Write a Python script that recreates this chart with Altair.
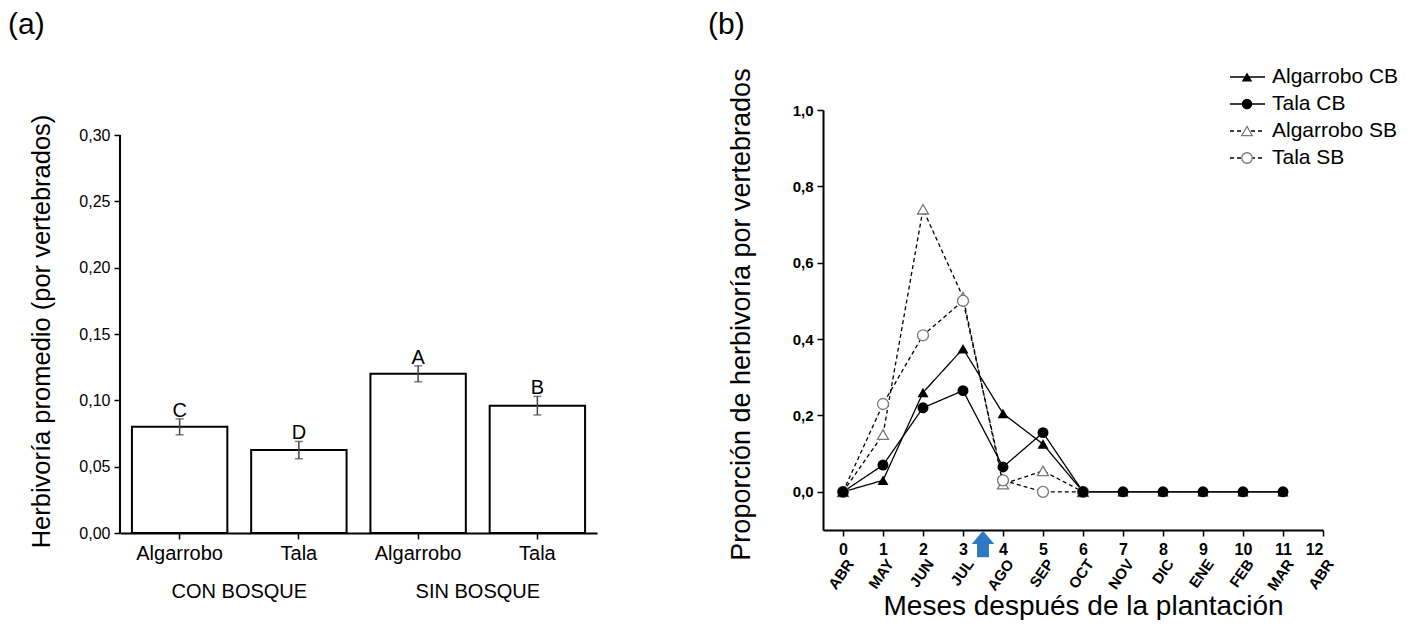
import altair as alt
import pandas as pd

FONT = "Liberation Sans"

# ---------------- data: panel (a) ----------------
bar_species = ["Algarrobo", "Tala", "Algarrobo", "Tala"]
bar_groups = ["CON BOSQUE", "CON BOSQUE", "SIN BOSQUE", "SIN BOSQUE"]
bar_means = [0.080, 0.0625, 0.120, 0.096]
bar_errors = [0.006, 0.0065, 0.006, 0.007]
bar_letters = ["C", "D", "A", "B"]
y_ticks_a = [0.0, 0.05, 0.10, 0.15, 0.20, 0.25, 0.30]

# ---------------- data: panel (b) ----------------
month_ticks = list(range(13))
month_names = ["ABR", "MAY", "JUN", "JUL", "AGO", "SEP", "OCT",
               "NOV", "DIC", "ENE", "FEB", "MAR", "ABR"]
months_cb = list(range(12))
months_sb = list(range(7))
alg_cb = [0.0, 0.03, 0.26, 0.375, 0.205, 0.125, 0.0, 0.0, 0.0, 0.0, 0.0, 0.0]
tala_cb = [0.0, 0.07, 0.22, 0.265, 0.065, 0.155, 0.0, 0.0, 0.0, 0.0, 0.0, 0.0]
alg_sb = [0.0, 0.15, 0.74, 0.51, 0.02, 0.055, 0.0]
tala_sb = [0.0, 0.23, 0.41, 0.50, 0.03, 0.0, 0.0]
series_names = ["Algarrobo CB", "Tala CB", "Algarrobo SB", "Tala SB"]
y_ticks_b = [0.0, 0.2, 0.4, 0.6, 0.8, 1.0]
arrow_month = [3.5]
panel_labels = ["(a)", "(b)"]

# ---------------- tables ----------------
keys = [f"{s}|{g}" for s, g in zip(bar_species, bar_groups)]
df_a = pd.DataFrame({
    "key": keys,
    "species": bar_species,
    "group": bar_groups,
    "mean": bar_means,
    "err": bar_errors,
    "letter": bar_letters,
})
df_a["lo"] = df_a["mean"] - df_a["err"]
df_a["hi"] = df_a["mean"] + df_a["err"]

rows = []
for name, months, vals in [("Algarrobo SB", months_sb, alg_sb),
                           ("Tala SB", months_sb, tala_sb),
                           ("Algarrobo CB", months_cb, alg_cb),
                           ("Tala CB", months_cb, tala_cb)]:
    for m, v in zip(months, vals):
        rows.append({"serie": name, "month": m, "value": v})
df_b = pd.DataFrame(rows)
df_months = pd.DataFrame({"m": month_ticks, "name": month_names})
df_leg = pd.DataFrame({"serie": series_names, "i": list(range(len(series_names)))})
df_arrow = pd.DataFrame({"m": arrow_month})

# ---------------- panel (a) ----------------
# plot area of panel (a) starts 25px below panel (b); the y scale is extended
# upwards so both panels share the same top origin, the axis line stops at 0,30
W_A, H_A = 477, 423
Y_TOP_A = y_ticks_a[-1] * H_A / 398.0
x_a = alt.X("key:N", sort=None,
            scale=alt.Scale(domain=keys, paddingInner=0.2, paddingOuter=0.1),
            axis=alt.Axis(title=None, labelExpr="split(datum.label, '|')[0]",
                          labelAngle=0, labelFontSize=20, labelPadding=4,
                          tickSize=6, tickWidth=1.5, domainWidth=2))
y_a = alt.Y("mean:Q", scale=alt.Scale(domain=[0, Y_TOP_A], nice=False, zero=True),
            axis=alt.Axis(values=y_ticks_a, domain=False,
                          labelExpr="replace(format(datum.value, '.2f'), '.', ',')",
                          labelFontSize=16, labelPadding=4, tickSize=6, tickWidth=1.5,
                          grid=False,
                          title="Herbivoría promedio (por vertebrados)",
                          titleFontSize=25.5, titleFontWeight="normal",
                          titleAngle=270, titleAlign="center", titleBaseline="middle",
                          titleX=-79, titleY=221))

base_a = alt.Chart(df_a)
bars = base_a.mark_bar(fill="white", stroke="black", strokeWidth=2).encode(x=x_a, y=y_a)
y_line = alt.Chart(pd.DataFrame({"t": [0]})).mark_rule(color="black", strokeWidth=2).encode(
    x=alt.value(0), y=alt.datum(y_ticks_a[0]), y2=alt.datum(y_ticks_a[-1]))
err_rule = base_a.mark_rule(color="#444444", strokeWidth=1.5).encode(
    x="key:N", y="lo:Q", y2="hi:Q")
cap_lo = base_a.mark_tick(color="#444444", size=8, thickness=1.5).encode(x="key:N", y="lo:Q")
cap_hi = base_a.mark_tick(color="#444444", size=8, thickness=1.5).encode(x="key:N", y="hi:Q")
letters = base_a.mark_text(fontSize=20, baseline="alphabetic", dy=-2, color="black").encode(
    x="key:N", y="hi:Q", text="letter:N")
groups = base_a.transform_filter("datum.species == 'Algarrobo'").mark_text(
    fontSize=20, baseline="middle", color="black", dx=12).encode(
    x=alt.X("key:N", bandPosition=1), y=alt.value(482), text="group:N")
lab_a = alt.Chart(pd.DataFrame({"t": [panel_labels[0]]})).mark_text(
    fontSize=30, align="left", baseline="middle", color="black").encode(
    x=alt.value(-112), y=alt.value(-85), text="t:N")

panel_a = alt.layer(bars, y_line, err_rule, cap_lo, cap_hi, letters, groups, lab_a).properties(
    width=W_A, height=H_A)

# ---------------- panel (b) ----------------
W_B, H_B = 500, 420
x_b = alt.X("month:Q", scale=alt.Scale(domain=[-0.5, 12], nice=False, zero=False),
            axis=alt.Axis(values=month_ticks, format="d", labelFontSize=16,
                          labelFontWeight="bold", labelPadding=5, tickSize=6,
                          tickWidth=1.5, domainWidth=2, grid=False,
                          title="Meses después de la plantación", titleFontSize=28,
                          titleFontWeight="normal", titleBaseline="middle",
                          titleX=260, titleY=76))
y_b = alt.Y("value:Q", scale=alt.Scale(domain=[-0.1, 1.0], nice=False, zero=False),
            axis=alt.Axis(values=y_ticks_b,
                          labelExpr="replace(format(datum.value, '.1f'), '.', ',')",
                          labelFontSize=15, labelFontWeight="bold", labelPadding=4,
                          tickSize=6, tickWidth=1.5, domainWidth=2, grid=False,
                          title="Proporción de herbivoría por vertebrados",
                          titleFontSize=27, titleFontWeight="normal",
                          titleAngle=270, titleAlign="center", titleBaseline="middle",
                          titleX=-82, titleY=204))

dash = alt.StrokeDash("serie:N", scale=alt.Scale(domain=series_names,
                                                 range=[[1, 0], [1, 0], [4, 3], [4, 3]]),
                      legend=None)
shape = alt.Shape("serie:N", scale=alt.Scale(domain=series_names,
                                             range=["triangle-up", "circle", "triangle-up", "circle"]),
                  legend=None)

base_b = alt.Chart(df_b)
lines = base_b.mark_line(color="black", strokeWidth=1.3).encode(
    x=x_b, y=y_b, detail="serie:N", strokeDash=dash, order="month:Q")
pts_sb = base_b.transform_filter("indexof(datum.serie, 'SB') >= 0").mark_point(
    fill="white", stroke="#777777", strokeWidth=1.3, size=120, opacity=1).encode(
    x="month:Q", y="value:Q", shape=shape)
pts_cb = base_b.transform_filter("indexof(datum.serie, 'CB') >= 0").mark_point(
    filled=True, color="black", size=120, opacity=1).encode(
    x="month:Q", y="value:Q", shape=shape)

month_text = alt.Chart(df_months).mark_text(
    angle=305, align="right", baseline="middle", fontSize=15, fontWeight="bold",
    color="black", dx=4.3, dy=6.1).encode(x="m:Q", y=alt.value(451), text="name:N")

ARROW = "M0,-1L0.85,0L0.45,0L0.45,1L-0.45,1L-0.45,0L-0.85,0Z"
arrow = alt.Chart(df_arrow).mark_point(shape=ARROW, filled=True, color="#2f78c4",
                                      size=700, opacity=1).encode(
    x="m:Q", y=alt.value(434))

leg = alt.Chart(df_leg).transform_calculate(ly="-33 + 27 * datum.i")
leg_rule = leg.mark_rule(color="black", strokeWidth=1.3).encode(
    x=alt.value(407), x2=alt.value(442), y=alt.Y("ly:Q", scale=None), strokeDash=dash)
leg_sb = leg.transform_filter("indexof(datum.serie, 'SB') >= 0").mark_point(
    fill="white", stroke="#777777", strokeWidth=1.3, size=110, opacity=1).encode(
    x=alt.value(424), y=alt.Y("ly:Q", scale=None), shape=shape)
leg_cb = leg.transform_filter("indexof(datum.serie, 'CB') >= 0").mark_point(
    filled=True, color="black", size=110, opacity=1).encode(
    x=alt.value(424), y=alt.Y("ly:Q", scale=None), shape=shape)
leg_text = leg.mark_text(align="left", baseline="middle", fontSize=21, color="black").encode(
    x=alt.value(449), y=alt.Y("ly:Q", scale=None), text="serie:N")

lab_b = alt.Chart(pd.DataFrame({"t": [panel_labels[1]]})).mark_text(
    fontSize=30, align="left", baseline="middle", color="black").encode(
    x=alt.value(-115), y=alt.value(-85), text="t:N")

panel_b = alt.layer(lines, pts_sb, pts_cb, month_text, arrow,
                    leg_rule, leg_sb, leg_cb, leg_text, lab_b).properties(
    width=W_B, height=H_B)

chart = alt.hconcat(panel_a, panel_b, spacing=111).properties(
    padding={"left": 0, "top": 2, "right": 5, "bottom": 0}
).configure(font=FONT).configure_view(stroke=None).configure_axis(
    domainColor="black", tickColor="black", labelColor="black", titleColor="black",
    labelFont=FONT, titleFont=FONT
).configure_text(font=FONT)

chart.save("out.html", embed_options={"renderer": "svg", "actions": False})
